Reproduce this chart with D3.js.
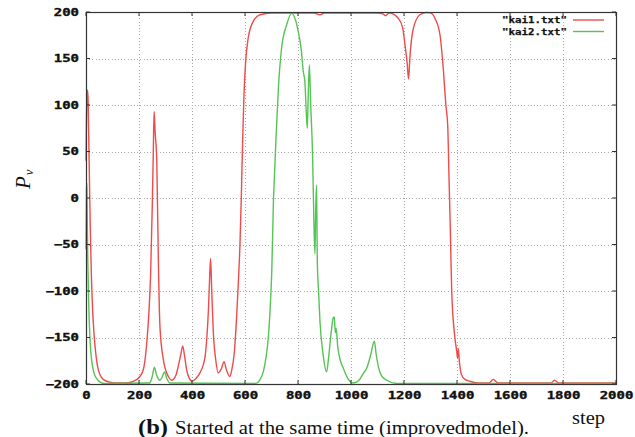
<!DOCTYPE html>
<html>
<head>
<meta charset="utf-8">
<script src="https://cdn.jsdelivr.net/npm/d3@7"></script>
<style>
  html, body { margin: 0; padding: 0; background: #fff; }
  svg { display: block; }
</style>
</head>
<body>
<svg id="chart" width="635" height="437"></svg>
<script>
// ---- data ----
const kai1Steps = [0,2,4,6,8,10,13,16,20,25,30,38,45,53,65,90,120,150,180,200,216,228,238,244,250,254,257,261,267,273,279,292,311,323,340,348,358,365,372,380,390,399,415,430,449,456,462,466,470,474,480,490,499,510,521,530,543,550,560,568,575,581,586,591,596,602,612,631,657,700,800,860,883,900,1000,1100,1120,1130,1145,1179,1195,1204,1212,1217,1223,1235,1260,1285,1300,1317,1336,1349,1358,1365,1370,1374,1380,1392,1399,1402,1405,1409,1417,1430,1449,1480,1520,1537,1555,1700,1755,1768,1785,2000];
const kai1Values = [40,90,112,116,105,70,20,-30,-80,-120,-145,-170,-183,-190,-195,-198,-199,-199,-197,-193,-185,-160,-120,-80,-10,50,93,70,41,-67,-138,-174,-192,-196,-190,-181,-168,-159,-170,-185,-194,-197,-194,-188,-171,-150,-120,-90,-65,-95,-142,-175,-188,-184,-176,-185,-192,-185,-165,-130,-90,-50,0,60,110,145,172,190,197,199,199,199,197,199,199,199,198,196,199,193,183,164,145,128,154,182,197,199.5,199,193,175,136,100,78,20,-24,-100,-150,-165,-172,-162,-176,-190,-195,-197,-199,-199,-195,-199,-199,-199,-196,-199,-199];

const kai2Steps = [0,1,2,3,4,5,7,10,14,18,23,30,40,53,70,240,250,258,266,279,288,296,305,317,620,644,655,669,680,688,695,701,707,712,717,726,738,757,776,790,801,812,820,826,830,835,839,843,848,855,860,864,867,870,873,877,883,895,908,916,925,933,937,941,944,950,960,971,990,1009,1030,1048,1059,1075,1088,1095,1103,1115,1135,1172,2000];
const kai2Values = [-55,-20,10,16,5,-30,-70,-110,-145,-165,-178,-188,-194,-198,-199.5,-199,-192,-182,-190,-196,-192,-187,-194,-199,-199.5,-199,-196,-187,-170,-150,-118,-79,-7,30,64,118,161,186,198.5,192,179,160,136,125,100,75,115,143,100,46,-25,-60,-10,14,-70,-97,-133,-169,-187,-170,-145,-129,-128,-145,-140,-160,-175,-183,-195,-199,-196,-188,-183,-168,-154,-168,-181,-191,-196,-199.5,-199.5];

const xTicks = [0,200,400,600,800,1000,1200,1400,1600,1800,2000];
const yTicks = [-200,-150,-100,-50,0,50,100,150,200];
const seriesNames = ['"kai1.txt"', '"kai2.txt"'];
const seriesColors = ["#f04a4a", "#55c455"];

// ---- layout ----
const plot = { left: 86, right: 616, top: 12, bottom: 384 };
const svg = d3.select("#chart");

const x = d3.scaleLinear().domain([0, 2000]).range([plot.left, plot.right]);
const y = d3.scaleLinear().domain([-200, 200]).range([plot.bottom, plot.top]);

// dotted grid
const grid = svg.append("g").attr("stroke", "#a8a8a8").attr("stroke-width", 1)
  .attr("stroke-dasharray", "1,2.2").attr("shape-rendering", "crispEdges");
grid.selectAll("line.v").data(xTicks.slice(1, -1)).join("line")
  .attr("x1", d => Math.round(x(d)) + 0.5).attr("x2", d => Math.round(x(d)) + 0.5)
  .attr("y1", plot.top).attr("y2", plot.bottom);
grid.selectAll("line.h").data(yTicks.slice(1, -1)).join("line")
  .attr("y1", d => Math.round(y(d)) + 0.5).attr("y2", d => Math.round(y(d)) + 0.5)
  .attr("x1", plot.left).attr("x2", plot.right);

// series lines
const line = d3.line().x(d => x(d[0])).y(d => y(d[1])).curve(d3.curveMonotoneX);
const kai1 = kai1Steps.map((s, i) => [s, kai1Values[i]]);
const kai2 = kai2Steps.map((s, i) => [s, kai2Values[i]]);
[kai1, kai2].forEach((data, i) => {
  svg.append("path").datum(data)
    .attr("fill", "none")
    .attr("stroke", seriesColors[i])
    .attr("stroke-width", 1.4)
    .attr("stroke-linejoin", "round")
    .attr("d", line);
});

// frame
svg.append("rect")
  .attr("x", plot.left + 0.5).attr("y", plot.top + 0.5)
  .attr("width", plot.right - plot.left).attr("height", plot.bottom - plot.top)
  .attr("fill", "none").attr("stroke", "#333").attr("stroke-width", 1.2);

// inward tick marks on all four sides
const tickLen = 4;
const ticks = svg.append("g").attr("stroke", "#333").attr("stroke-width", 1);
ticks.selectAll("line.b").data(xTicks).join("line")
  .attr("x1", d => x(d)).attr("x2", d => x(d))
  .attr("y1", plot.bottom).attr("y2", plot.bottom - tickLen);
ticks.selectAll("line.t").data(xTicks).join("line")
  .attr("x1", d => x(d)).attr("x2", d => x(d))
  .attr("y1", plot.top).attr("y2", plot.top + tickLen);
ticks.selectAll("line.l").data(yTicks).join("line")
  .attr("y1", d => y(d)).attr("y2", d => y(d))
  .attr("x1", plot.left).attr("x2", plot.left + tickLen);
ticks.selectAll("line.r").data(yTicks).join("line")
  .attr("y1", d => y(d)).attr("y2", d => y(d))
  .attr("x1", plot.right).attr("x2", plot.right - tickLen);

// axis labels (bold typewriter style)
const tickFont = "'DejaVu Sans Mono', monospace";
const xAxis = svg.append("g").attr("transform", `translate(0,${plot.bottom})`)
  .call(d3.axisBottom(x).tickValues(xTicks).tickFormat(d3.format("d")).tickSize(0).tickPadding(7.5));
const yAxis = svg.append("g").attr("transform", `translate(${plot.left},0)`)
  .call(d3.axisLeft(y).tickValues(yTicks).tickFormat(d3.format("d")).tickSize(0).tickPadding(7));
[xAxis, yAxis].forEach(g => {
  g.select(".domain").remove();
  g.selectAll("text")
    .attr("font-family", tickFont)
    .attr("font-weight", "bold")
    .attr("font-size", 10)
    .attr("fill", "#111")
    .attr("stroke", "#111")
    .attr("stroke-width", 0.35)
    .attr("textLength", function () { return this.textContent.length * 8.4; })
    .attr("lengthAdjust", "spacingAndGlyphs");
});
yAxis.selectAll("text").attr("text-anchor", "end");

// legend
const legend = svg.append("g");
seriesNames.forEach((name, i) => {
  const ly = 20 + i * 11.5;
  legend.append("text")
    .attr("x", 567).attr("y", ly).attr("dy", "0.35em")
    .attr("text-anchor", "end")
    .attr("font-family", tickFont).attr("font-weight", "bold").attr("font-size", 9)
    .attr("fill", "#111")
    .attr("stroke", "#111").attr("stroke-width", 0.25)
    .attr("textLength", 65).attr("lengthAdjust", "spacingAndGlyphs")
    .text(name);
  legend.append("line")
    .attr("x1", 573).attr("x2", 604).attr("y1", ly).attr("y2", ly)
    .attr("stroke", seriesColors[i]).attr("stroke-width", 1.4);
});

// y-axis title P_ν
const yTitle = svg.append("text")
  .attr("transform", "translate(30,189) rotate(-90)")
  .attr("font-family", "'Liberation Serif', 'Times New Roman', serif")
  .attr("font-style", "italic")
  .attr("fill", "#111");
yTitle.append("tspan").attr("font-size", 21).text("P");
yTitle.append("tspan").attr("font-size", 13).attr("dy", 3).attr("dx", 1).text("ν");

// x-axis title
svg.append("text")
  .attr("x", 572).attr("y", 424)
  .attr("font-family", "'Liberation Serif', 'Times New Roman', serif")
  .attr("font-size", 19)
  .attr("fill", "#111")
  .attr("textLength", 33).attr("lengthAdjust", "spacingAndGlyphs")
  .text("step");

// caption
svg.append("text")
  .attr("x", 138).attr("y", 434)
  .attr("font-family", "'Liberation Serif', 'Times New Roman', serif")
  .attr("font-weight", "bold").attr("font-size", 20)
  .attr("fill", "#111")
  .attr("textLength", 30).attr("lengthAdjust", "spacingAndGlyphs")
  .text("(b)");
svg.append("text")
  .attr("x", 175).attr("y", 434)
  .attr("font-family", "'Liberation Serif', 'Times New Roman', serif")
  .attr("font-size", 18)
  .attr("fill", "#111")
  .attr("textLength", 354).attr("lengthAdjust", "spacingAndGlyphs")
  .text("Started at the same time (improvedmodel).");
</script>
</body>
</html>
